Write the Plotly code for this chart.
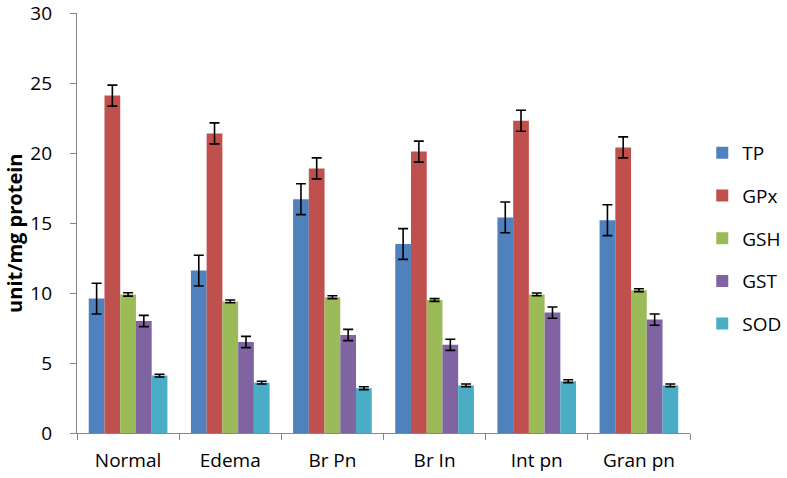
import plotly.graph_objects as go

categories = ["Normal", "Edema", "Br Pn", "Br In", "Int pn", "Gran pn"]
series_names = ["TP", "GPx", "GSH", "GST", "SOD"]
tp = [9.6, 11.6, 16.7, 13.5, 15.4, 15.2]
gpx = [24.1, 21.4, 18.9, 20.1, 22.3, 20.4]
gsh = [9.9, 9.4, 9.7, 9.5, 9.9, 10.2]
gst = [8.0, 6.5, 7.0, 6.3, 8.6, 8.1]
sod = [4.1, 3.6, 3.2, 3.4, 3.7, 3.4]
tp_err = [1.1, 1.1, 1.1, 1.1, 1.1, 1.1]
gpx_err = [0.75, 0.75, 0.75, 0.75, 0.75, 0.75]
gsh_err = [0.12, 0.1, 0.1, 0.1, 0.1, 0.1]
gst_err = [0.4, 0.4, 0.4, 0.4, 0.4, 0.4]
sod_err = [0.1, 0.1, 0.1, 0.1, 0.1, 0.1]
y_ticks = [0, 5, 10, 15, 20, 25, 30]
y_title = "unit/mg protein"

values = [tp, gpx, gsh, gst, sod]
errors = [tp_err, gpx_err, gsh_err, gst_err, sod_err]
colors = ["#4F81BD", "#C0504D", "#9BBB59", "#8064A2", "#4BACC6"]

fig = go.Figure()
for name, v, e, c in zip(series_names, values, errors, colors):
    fig.add_trace(go.Bar(
        x=categories, y=v, name=name, marker_color=c, marker_line_width=0,
        legendgroup=name,
        error_y=dict(type="data", array=e, visible=True, color="black",
                     thickness=1.6, width=5),
    ))

font_family = "Open Sans, Liberation Sans, sans-serif"
fig.update_layout(
    width=787, height=478,
    margin=dict(l=77, r=97, t=13, b=45, autoexpand=False),
    paper_bgcolor="white", plot_bgcolor="white",
    barmode="group", bargap=0.23, bargroupgap=0,
    font=dict(family=font_family, size=19, color="black"),
    showlegend=True,
    legend=dict(x=1.02, xanchor="left", y=0.712, yanchor="top",
                xref="paper", yref="paper",
                tracegroupgap=15, font=dict(size=19), itemwidth=30),
    xaxis=dict(showline=True, linecolor="#868686", linewidth=1.3,
               ticks="outside", ticklen=6, tickcolor="#868686",
               tickson="boundaries", showgrid=False, automargin=False,
               tickfont=dict(size=19), ticklabelstandoff=10),
    yaxis=dict(range=[0, 30], tickvals=y_ticks, showline=True,
               linecolor="#868686", linewidth=1.3, ticks="outside",
               ticklen=6, tickcolor="#868686", showgrid=False,
               zeroline=False, tickfont=dict(size=19), automargin=False,
               ticklabelstandoff=14, ticklabeloverflow="allow"),
    annotations=[dict(text="<b>" + y_title + "</b>", textangle=-90,
                      xref="paper", yref="paper", x=-0.1031, y=0.476,
                      xanchor="center", yanchor="middle", showarrow=False,
                      font=dict(size=20))],
)
fig.write_html("out.html", config={"displayModeBar": False},
               post_script="document.body.style.margin='0';document.body.style.padding='0';")
